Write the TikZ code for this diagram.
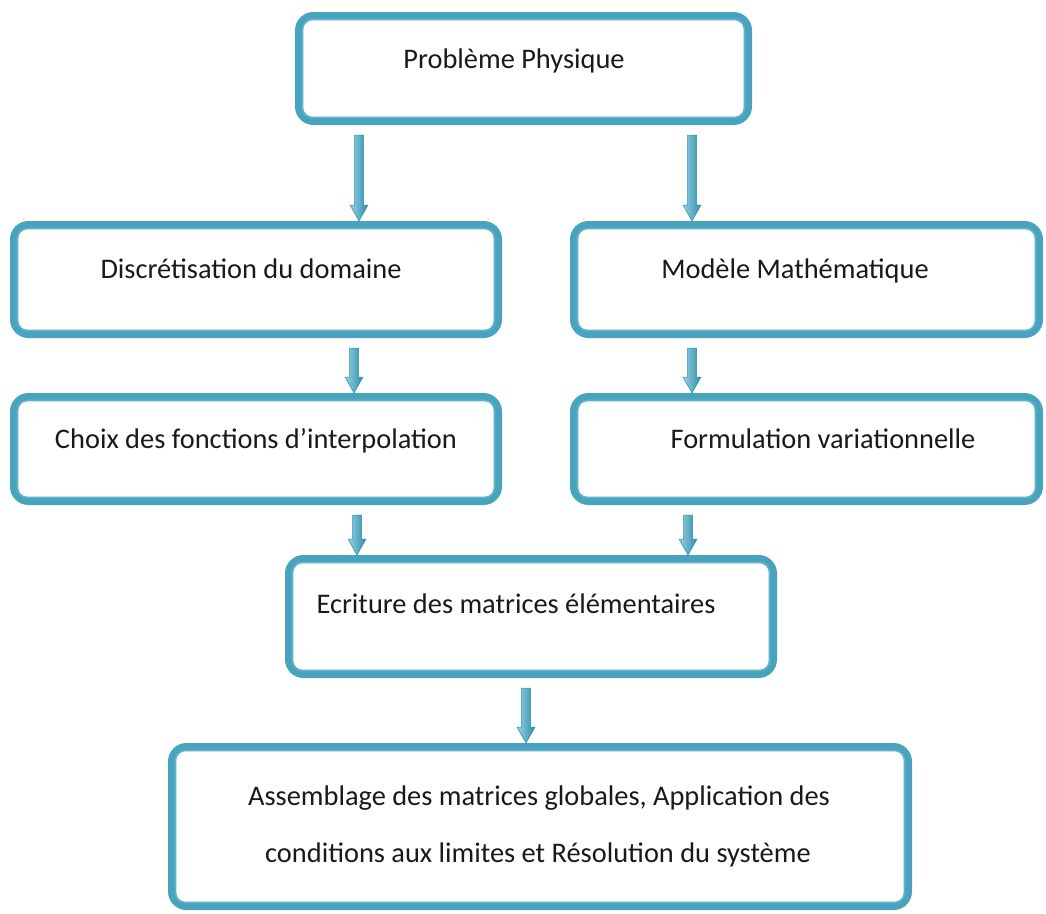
\documentclass[tikz,border=0pt]{standalone}
\usepackage{fontspec}
\setmainfont{Carlito}
\usetikzlibrary{calc}

\definecolor{frameteal}{RGB}{72,163,190}
\definecolor{frameinner}{RGB}{95,178,204}
\definecolor{arrowdark}{RGB}{45,140,170}
\definecolor{arrowlight}{RGB}{150,210,228}
\definecolor{inktext}{RGB}{25,25,25}

\tikzset{
  stepbox/.style={draw=frameteal, line width=7bp, rounded corners=15bp,
    fill=white, inner sep=0pt},
  innerline/.style={draw=frameinner, line width=1.6bp, rounded corners=10bp},
  boxtext/.style={font=\fontsize{28.5}{32}\selectfont, text=inktext,
    anchor=base, inner sep=0pt},
  flowarrow/.style={left color=arrowlight, right color=arrowdark,
    draw=arrowdark, line width=0.5bp},
}

% box given by its outer edges: name, x1, y1, x2, y2
\newcommand\placebox[5]{%
  \node[stepbox, minimum width={(#4-#2-7)*1bp}, minimum height={(#5-#3-7)*1bp}]
    (#1) at ({(#2+#4)/2},{(#3+#5)/2}) {};%
  \draw[innerline] ([shift={(7.5,7.5)}]#1.north west)
    rectangle ([shift={(-7.5,-7.5)}]#1.south east);%
}

% block arrow at abscissa x, from the bottom of one box to the top of another
\newcommand\linkarrow[3]{%
  \path[flowarrow] let \p1=(#2.south), \p2=(#3.north), \p3=(#1,0) in
    (\x3-4.5bp,\y1-10bp) -- (\x3+4.5bp,\y1-10bp) -- (\x3+4.5bp,\y2+16bp)
    -- (\x3+9bp,\y2+16bp) -- (\x3,\y2) -- (\x3-9bp,\y2+16bp)
    -- (\x3-4.5bp,\y2+16bp) -- cycle;%
}

\begin{document}
\begin{tikzpicture}[x=1bp,y=-1bp]
\path[use as bounding box] (0,0) rectangle (1046,914);
\fill[white] (0,0) rectangle (1046,914);

\placebox{prob}{295}{12}{752}{125}
\placebox{disc}{10}{221}{502}{338}
\placebox{mod}{570}{221}{1043}{338}
\placebox{choix}{10}{393}{502}{505}
\placebox{form}{570}{393}{1043}{505}
\placebox{ecr}{285}{555}{777}{678}
\placebox{asm}{168}{743}{912}{910}

\node[boxtext] (tprob)  at (514,68)  {Problème Physique};
\node[boxtext] (tdisc)  at (251,278) {Discrétisation du domaine};
\node[boxtext] (tmod)   at (795,278) {Modèle Mathématique};
\node[boxtext] (tchoix) at (256,448) {Choix des fonctions d’interpolation};
\node[boxtext] (tform)  at (823,448) {Formulation variationnelle};
\node[boxtext] (tecr)   at (516,613) {Ecriture des matrices élémentaires};
\node[boxtext] (tasma)  at (539,805) {Assemblage des matrices globales, Application des};
\node[boxtext] (tasmb)  at (538,862) {conditions aux limites et Résolution du système};

\linkarrow{359}{prob}{disc}
\linkarrow{692}{prob}{mod}
\linkarrow{354}{disc}{choix}
\linkarrow{692}{mod}{form}
\linkarrow{357}{choix}{ecr}
\linkarrow{688}{form}{ecr}
\linkarrow{526}{ecr}{asm}
\end{tikzpicture}
\end{document}
